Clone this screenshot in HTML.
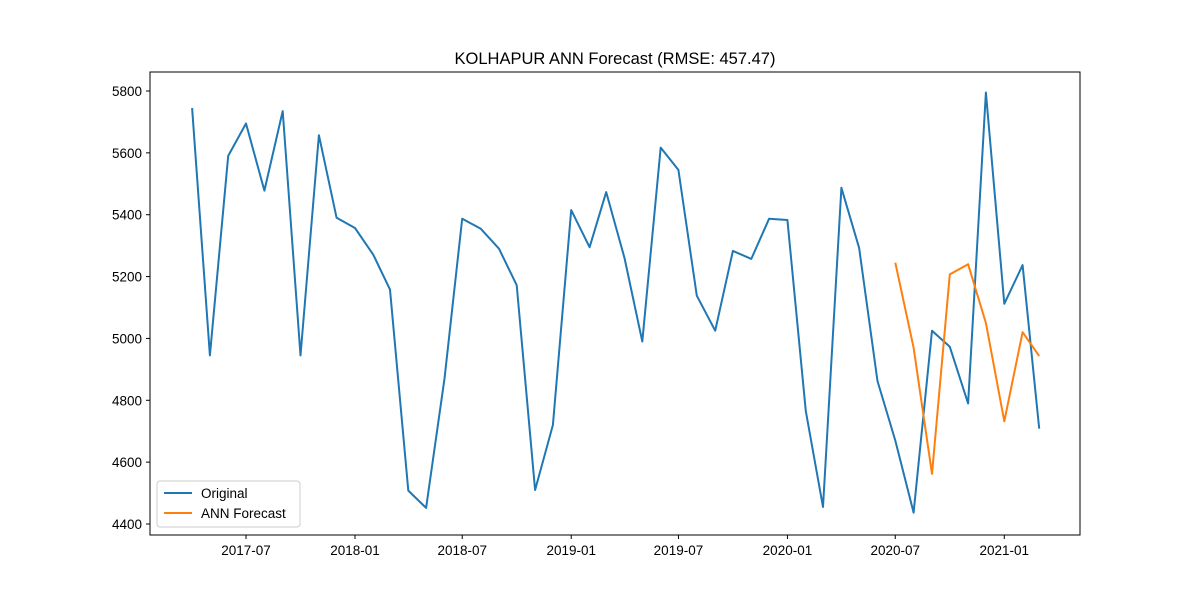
<!DOCTYPE html>
<html><head><meta charset="utf-8">
<style>
body{margin:0;background:#fff;}
svg{font-family:"Liberation Sans","DejaVu Sans",sans-serif;}
</style></head>
<body>
<svg id="chart" width="1200" height="600" xmlns="http://www.w3.org/2000/svg">
<rect width="1200" height="600" fill="#fff"/>
<text x="615" y="64" text-anchor="middle" font-size="16.5">KOLHAPUR ANN Forecast (RMSE: 457.47)</text>
<g id="grid"></g>
<g id="series"></g>
<rect x="150" y="72" width="930" height="463" fill="none" stroke="#000" stroke-width="1"/>
<g>
<rect x="157" y="481" width="143" height="46" fill="#fff" stroke="#ccc" rx="3"/>
<line x1="164" y1="493" x2="192" y2="493" stroke="#1f77b4" stroke-width="2"/>
<text x="201" y="498" font-size="13.5">Original</text>
<line x1="164" y1="513" x2="192" y2="513" stroke="#ff7f0e" stroke-width="2"/>
<text x="201" y="518" font-size="13.5">ANN Forecast</text>
</g>
</svg>
<script>
const origStart = [2017, 4];
const origValues = [5745,4945,5590,5695,5478,5735,4945,5657,5390,5357,5270,5158,4508,4452,4870,5387,5355,5290,5172,4510,4720,5415,5295,5473,5260,4990,5617,5545,5138,5025,5283,5257,5387,5383,4765,4455,5487,5293,4862,4670,4437,5025,4973,4790,5795,5112,5237,4708];
const fcStart = [2020, 7];
const fcValues = [5245,4970,4562,5207,5240,5050,4732,5020,4943];
const yTicks = [4400,4600,4800,5000,5200,5400,5600,5800];
const xTicks = ["2017-07","2018-01","2018-07","2019-01","2019-07","2020-01","2020-07","2021-01"];

const NS="http://www.w3.org/2000/svg";
const ref = Date.UTC(2017,6,1);
const pxPerDay = 109/184;
function xs(d){return 246 + (d-ref)/86400000*pxPerDay;}
function ys(v){return 91 + (5800-v)*(433/1400);}
function monthDate(start,i){return Date.UTC(start[0], start[1]-1+i, 1);}
const grid=document.getElementById('grid');
yTicks.forEach(v=>{
  const y=ys(v);
  const l=document.createElementNS(NS,'line');
  l.setAttribute('x1',146);l.setAttribute('x2',150);l.setAttribute('y1',y);l.setAttribute('y2',y);l.setAttribute('stroke','#000');
  
  
  grid.appendChild(l);
  const t=document.createElementNS(NS,'text');
  t.setAttribute('x',142);t.setAttribute('y',y+5);t.setAttribute('text-anchor','end');t.setAttribute('font-size','13.5');
  t.textContent=v;
  
  
  grid.appendChild(t);
});
xTicks.forEach(s=>{
  const [yy,mm]=s.split('-').map(Number);
  const x=xs(Date.UTC(yy,mm-1,1));
  const l=document.createElementNS(NS,'line');
  l.setAttribute('x1',x);l.setAttribute('x2',x);l.setAttribute('y1',535);l.setAttribute('y2',539);l.setAttribute('stroke','#000');
  
  
  grid.appendChild(l);
  const t=document.createElementNS(NS,'text');
  t.setAttribute('x',x);t.setAttribute('y',555);t.setAttribute('text-anchor','middle');t.setAttribute('font-size','13.5');
  t.textContent=s;
  
  
  grid.appendChild(t);
});
function line(start,vals,color,name){
  const p=document.createElementNS(NS,'polyline');
  p.setAttribute('points',vals.map((v,i)=>xs(monthDate(start,i)).toFixed(1)+','+ys(v).toFixed(1)).join(' '));
  p.setAttribute('fill','none');p.setAttribute('stroke',color);p.setAttribute('stroke-width','2');p.setAttribute('stroke-linejoin','round');
  
  
  document.getElementById('series').appendChild(p);
}
line(origStart,origValues,'#1f77b4','original-line');
line(fcStart,fcValues,'#ff7f0e','forecast-line');
</script>
</body></html>
